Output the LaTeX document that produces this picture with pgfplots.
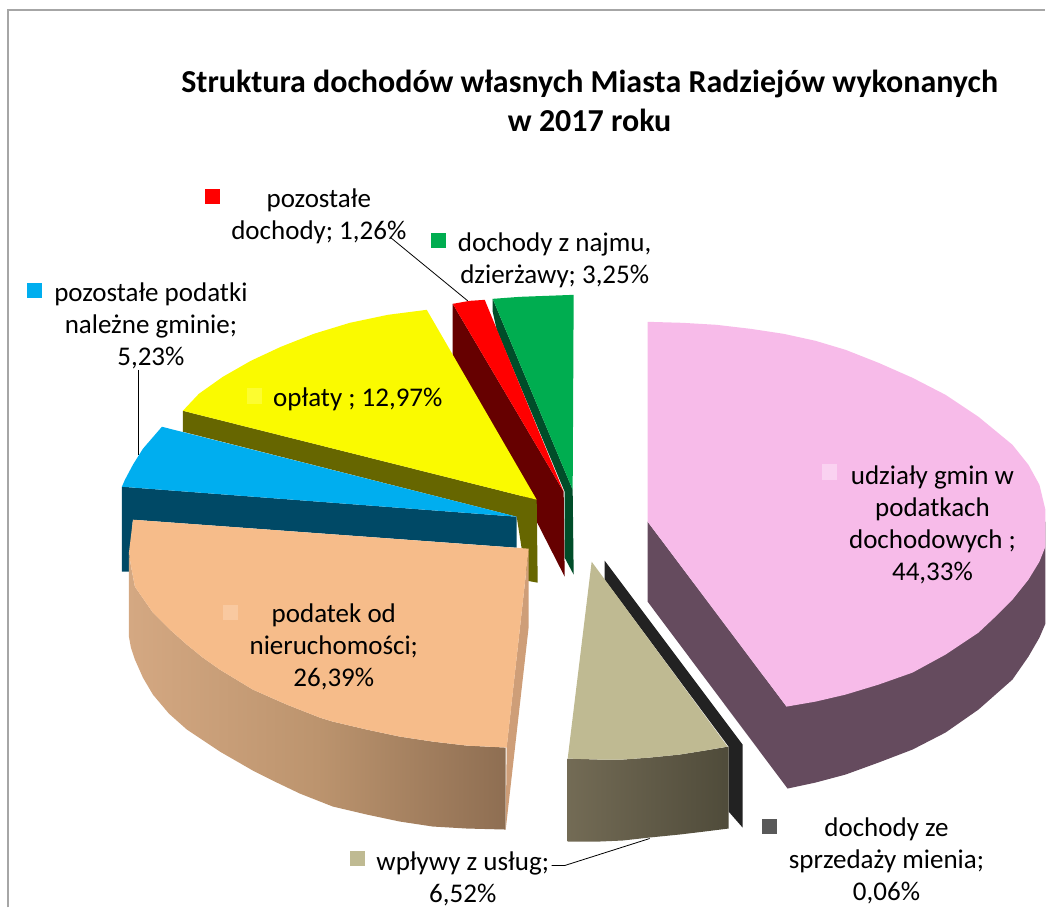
\documentclass[border=0pt]{standalone}
\usepackage{pgfplots}
\pgfplotsset{compat=1.18}
\usepackage{fontspec}
\setmainfont{Carlito}
\definecolor{pinkT}{HTML}{F7BBE9}\definecolor{pinkS}{HTML}{654B5E}\definecolor{pinkK}{HTML}{FAD2F1}
\definecolor{tanT}{HTML}{BFBA92}\definecolor{tanA}{HTML}{736B55}\definecolor{tanB}{HTML}{4F4B3A}
\definecolor{blackS}{HTML}{222222}
\definecolor{greenT}{HTML}{00AD50}\definecolor{greenS}{HTML}{004D29}
\definecolor{redT}{HTML}{FF0000}\definecolor{redS}{HTML}{660000}
\definecolor{yelT}{HTML}{FAFA00}\definecolor{yelS}{HTML}{666600}\definecolor{yelK}{HTML}{FCFC30}
\definecolor{bluT}{HTML}{00AEEF}\definecolor{bluS}{HTML}{004966}
\definecolor{peaT}{HTML}{F6BC8A}\definecolor{peaA}{HTML}{D4A882}\definecolor{peaM}{HTML}{BC946E}\definecolor{peaB}{HTML}{8E6E52}\definecolor{peaC}{HTML}{CE9E78}\definecolor{peaK}{HTML}{F9C9A0}
\definecolor{greyK}{HTML}{595959}\definecolor{frameC}{HTML}{A6A6A6}
\tikzset{lab/.style={font=\fontsize{27}{32}\selectfont,align=center,text=black,inner sep=0pt}}
\pgfplotsset{solid piece/.style={draw=none,fill=#1,mark=none,line width=0pt}}
\begin{document}
\begin{tikzpicture}
\begin{axis}[scale only axis,width=1046pt,height=908pt,xmin=0,xmax=1046,ymin=0,ymax=908,y dir=reverse,
  axis lines=none,clip=false]
% full extent of the picture
\addplot[draw=none,mark=none] coordinates {(0,0)(1046,908)};
% frame
\addplot[frameC,line width=1.2pt,mark=none] coordinates {(8,908)(8,10)(1046,10)};
% pink: 44,33
\addplot[solid piece=pinkS] coordinates {(648,522)(648,602)(788,789)(816,783)(846,775)(879,763)(913,750)(946,733)(979,710)(1013,680)(1029,657)(1040,638)(1046,624)(1046,522)(787,707)} --cycle;
\addplot[solid piece=pinkT] coordinates {(648,322)(683,323)(717,325)(751,329)(784,334)(816,341)(846,350)(879,363)(913,378)(946,395)(979,417)(1013,445)(1029,465)(1040,485)(1046,510)(1046,547)(1040,562)(1029,580)(1013,600)(996,617)(979,633)(946,655)(913,673)(879,685)(846,695)(816,702)(787,707)(648,522)} --cycle;
% 0,06 strip
\addplot[solid piece=blackS] coordinates {(605,561)(743,745)(743,828)(729,812)(729,747)(605,580)} --cycle;
% 6,52
\addplot[draw=none,mark=none,left color=tanA,right color=tanB] coordinates {(568,759)(600,760)(623,760)(650,758)(680,755)(705,751)(729,747)(729,829)(705,832)(680,835)(650,838)(623,841)(600,842)(568,842)} --cycle;
\addplot[solid piece=tanT] coordinates {(592,562)(728,747)(705,751)(680,755)(650,758)(623,760)(600,760)(568,759)} --cycle;
% 3,25
\addplot[solid piece=greenS] coordinates {(493,299)(573,490)(574,575)(565,558)(565,492)(497,330)(493,312)} --cycle;
\addplot[solid piece=greenT] coordinates {(493,299)(520,297)(574,295)(573,490)} --cycle;
% 1,26
\addplot[solid piece=redS] coordinates {(453,304)(453,357)(565,577)(564,492)} --cycle;
\addplot[solid piece=redT] coordinates {(453,304)(470,301)(485,300)(564,492)} --cycle;
% 12,97
\addplot[solid piece=yelS] coordinates {(183,411)(537,500)(538,583)(527,581)(517,517)(183,432)} --cycle;
\addplot[solid piece=yelT] coordinates {(183,411)(199,394)(223,377)(251,361)(281,347)(314,334)(350,323)(388,315)(427,310)(537,500)} --cycle;
% 5,23
\addplot[solid piece=bluS] coordinates {(122,487)(517,517)(517,548)(133,520)(129,572)(122,572)} --cycle;
\addplot[solid piece=bluT] coordinates {(162,427)(143,449)(133,465)(125,480)(122,487)(517,517)} --cycle;
% 26,39
\addplot[draw=none,mark=none,left color=peaA,right color=peaB,middle color=peaM] coordinates {(129,553)(131,566)(135,587)(144,600)(153,613)(169,629)(187,645)(203,658)(220,670)(253,690)(287,705)(320,718)(333,722)(367,730)(400,737)(433,742)(467,746)(506,748)(506,830)(467,829)(433,827)(400,822)(367,815)(333,807)(300,794)(277,783)(253,771)(220,752)(187,730)(169,714)(153,695)(143,678)(135,660)(131,648)(129,637)} --cycle;
\addplot[solid piece=peaC] coordinates {(529,549)(529,627)(506,830)(507,747)} --cycle;
\addplot[solid piece=peaT] coordinates {(133,520)(529,549)(507,748)(467,746)(433,742)(400,737)(367,730)(333,722)(320,718)(287,705)(253,690)(220,670)(203,658)(187,645)(169,629)(153,613)(144,600)(135,587)(131,566)(129,553)} --cycle;
% leader lines
\addplot[black,line width=0.8pt,mark=none] coordinates {(390,237)(468,301)};
\addplot[black,line width=0.8pt,mark=none] coordinates {(138,370)(138,455)};
\addplot[black,line width=0.8pt,mark=none] coordinates {(552,866)(565,866)(650,839)};
% label keys
\addplot[solid piece=redT] coordinates {(205,189)(220,189)(220,204)(205,204)} --cycle;
\addplot[solid piece=greenT] coordinates {(431,233)(446,233)(446,248)(431,248)} --cycle;
\addplot[solid piece=bluT] coordinates {(27,283)(42,283)(42,298)(27,298)} --cycle;
\addplot[solid piece=yelK] coordinates {(247,388)(262,388)(262,404)(247,404)} --cycle;
\addplot[solid piece=pinkK] coordinates {(822,464)(837,464)(837,480)(822,480)} --cycle;
\addplot[solid piece=peaK] coordinates {(223,605)(238,605)(238,620)(223,620)} --cycle;
\addplot[solid piece=tanT] coordinates {(350,851)(365,851)(365,866)(350,866)} --cycle;
\addplot[solid piece=greyK] coordinates {(762,819)(777,819)(777,834)(762,834)} --cycle;
% texts
\node[font=\fontsize{32}{39}\selectfont\bfseries,align=center,inner sep=0pt] at (axis cs:590,100.5) {Struktura dochodów własnych Miasta Radziejów wykonanych\\w 2017 roku};
\node[lab] at (axis cs:319,216) {pozostałe\\dochody; 1,26\%};
\node[lab] at (axis cs:555,260.5) {dochody z najmu,\\dzierżawy; 3,25\%};
\node[lab] at (axis cs:151,326) {pozostałe podatki\\należne gminie;\\5,23\%};
\node[lab] at (axis cs:358,400) {opłaty ; 12,97\%};
\node[lab] at (axis cs:933,525) {udziały gmin w\\podatkach\\dochodowych ;\\44,33\%};
\node[lab] at (axis cs:334,647) {podatek od\\nieruchomości;\\26,39\%};
\node[lab] at (axis cs:463,879) {wpływy z usług;\\6,52\%};
\node[lab] at (axis cs:887,861) {dochody ze\\sprzedaży mienia;\\0,06\%};
\end{axis}
\end{tikzpicture}
\end{document}
